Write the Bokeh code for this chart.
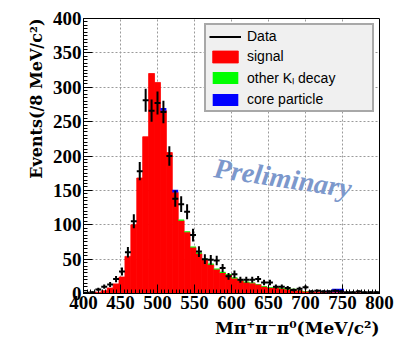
import numpy as np
from bokeh.plotting import figure
from bokeh.models import Legend, LegendItem, Label, SingleIntervalTicker, Range1d, Title
from bokeh.embed import file_html
from bokeh.resources import INLINE

# ---- data (8 MeV/c^2 bins from 400 to 800) ----
bin_start = 400
bin_width = 8

signal = [0.5, 1, 2, 4, 8, 14, 24, 54, 100, 168,
          228, 320, 307, 266, 205, 147, 106, 89, 67, 58,
          49, 42, 35, 30, 27, 22, 19, 16, 15, 13,
          10, 8, 8, 7, 6, 6, 4, 3, 2, 2,
          2, 2, 2, 2, 1.5, 1, 1, 1, 1, 1]

other_kl = [0, 0, 0, 0, 0, 0, 0, 0, 0, 0,
            0, 0, 0, 0, 0, 0, 1.5, 1.5, 1.5, 1.5,
            1.5, 1.5, 1.5, 1.5, 1.5, 1.5, 1.5, 1.5, 1, 1,
            1, 1, 1, 1, 1, 1, 0.5, 0.5, 0, 0,
            0, 0, 0, 0, 0, 0, 0, 0, 0, 0]

core = [0, 0, 0, 0, 0, 0, 0, 0, 0, 0,
        0, 0, 0, 4, 0, 4, 0, 0, 0, 0,
        0, 0, 0, 0, 0, 0, 0, 0, 0, 0,
        0, 0, 0, 0, 0, 0, 0, 0, 0, 0,
        0, 2, 5, 5, 0, 0, 0, 0, 0, 0]

data_counts = [1, 2, 6, 10, 13, 21, 32, 60, 105, 178,
               281, 266, 277, 264, 200, 138, 130, 119, 85, 61,
               50, 49, 48, 37, 25, 28, 20, 20, 20, 21,
               16, 16, 10, 10, 8, 5, 7, 9, 3, 4,
               3, 3, 4, 3, 2, 2, 3, 2, 2, 2]

x_ticks_interval = 50
y_ticks_interval = 50

# ---- derived ----
s = np.array(signal, dtype=float)
o = np.array(other_kl, dtype=float)
c = np.array(core, dtype=float)
d = np.array(data_counts, dtype=float)
edges = bin_start + bin_width * np.arange(len(s) + 1)
left, right = edges[:-1], edges[1:]
centers = (left + right) / 2
err = np.sqrt(d)

W, H = 394, 344
p = figure(width=W, height=H, x_range=Range1d(400, 800), y_range=Range1d(0, 400),
           output_backend="svg", toolbar_location=None,
           min_border_left=83, min_border_right=15, min_border_top=18, min_border_bottom=51)

red = p.quad(left=left, right=right, bottom=0, top=s,
             fill_color="#ff0000", line_color="#ff0000", line_width=0.8)
green = p.quad(left=left, right=right, bottom=s, top=s + o,
               fill_color="#00ff00", line_color=None)
blue = p.quad(left=left, right=right, bottom=s + o, top=s + o + c,
              fill_color="#0000ff", line_color=None)

vbar = p.segment(x0=centers, y0=d - err, x1=centers, y1=d + err,
                 line_color="black", line_width=2)
hbar = p.segment(x0=left, y0=d, x1=right, y1=d,
                 line_color="black", line_width=2)

# ---- axes ----
p.xaxis.ticker = SingleIntervalTicker(interval=x_ticks_interval, num_minor_ticks=10)
p.yaxis.ticker = SingleIntervalTicker(interval=y_ticks_interval, num_minor_ticks=10)
for ax in (p.xaxis[0], p.yaxis[0]):
    ax.major_label_text_font = "Liberation Serif"
    ax.major_label_text_font_style = "bold"
    ax.major_label_text_font_size = "19px"
    ax.major_label_text_color = "black"
    ax.major_tick_in = 9
    ax.major_tick_out = 0
    ax.minor_tick_in = 4
    ax.minor_tick_out = 0
    ax.axis_line_color = "black"
    ax.major_tick_line_color = "black"
    ax.minor_tick_line_color = "black"
    ax.major_label_standoff = 2

for g in (p.xgrid[0], p.ygrid[0]):
    g.grid_line_color = "#9a9a9a"
    g.grid_line_dash = "2 2"
    g.grid_line_width = 1

p.outline_line_color = "black"
p.outline_line_width = 1
p.background_fill_color = "white"
p.border_fill_color = "white"

# ---- legend ----
legend = Legend(items=[
    LegendItem(label="Data", renderers=[hbar]),
    LegendItem(label="signal", renderers=[red]),
    LegendItem(label="other K\u2097 decay", renderers=[green]),
    LegendItem(label="core particle", renderers=[blue]),
], location="top_right")
legend.margin = 5
legend.padding = 3
legend.spacing = 4
legend.glyph_width = 32
legend.glyph_height = 15
legend.label_height = 15
legend.label_width = 122
legend.label_standoff = 6
legend.label_text_font = "Liberation Sans"
legend.label_text_font_size = "14px"
legend.label_text_color = "black"
legend.border_line_color = "#606060"
legend.border_line_width = 2
legend.background_fill_color = "#f0f0f0"
legend.background_fill_alpha = 1.0
p.add_layout(legend)

# ---- texts ----
p.add_layout(Label(x=577, y=183, text="Preliminary", angle=-0.15,
                   text_font="Liberation Serif", text_font_style="bold italic",
                   text_font_size="28px", text_color="#7c98cc",
                   text_baseline="alphabetic", text_align="left"))

ytitle = Title(text="Events(/8 MeV/c\u00b2)", align="right",
               text_font="DejaVu Serif", text_font_style="bold",
               text_font_size="16px", text_color="black", standoff=8)
p.add_layout(ytitle, "left")

xtitle = Title(text="M\u03c0\u207a\u03c0\u207b\u03c0\u2070(MeV/c\u00b2)", align="right",
               text_font="DejaVu Serif", text_font_style="bold",
               text_font_size="17px", text_color="black", standoff=8)
p.add_layout(xtitle, "below")

open("out.html", "w").write(file_html(p, INLINE))
